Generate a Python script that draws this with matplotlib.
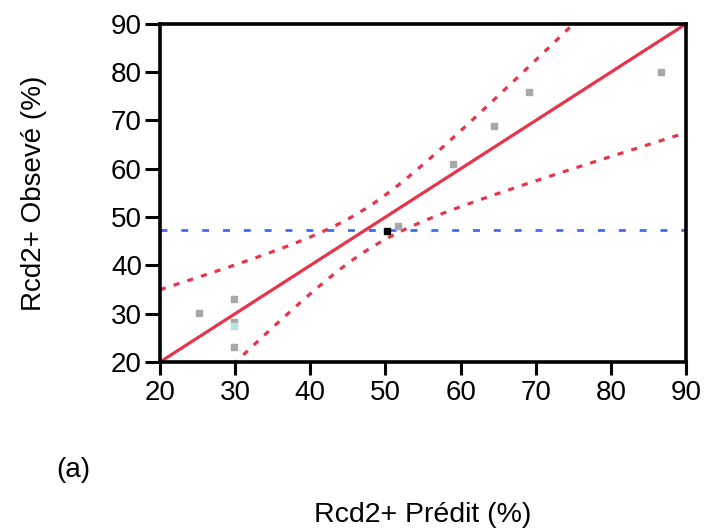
import numpy as np
import matplotlib
matplotlib.use("Agg")
import matplotlib.pyplot as plt

plt.rcParams["font.family"] = ["Liberation Sans", "DejaVu Sans"]

pred_grey = [25.2, 29.9, 29.9, 29.9, 51.7, 59.0, 64.5, 69.1, 86.7]
obs_grey = [30.1, 33.0, 28.3, 23.1, 48.2, 61.0, 68.9, 75.9, 80.0]
pred_cyan = [29.9]
obs_cyan = [27.5]
pred_black = [50.2]
obs_black = [47.1]

mean_obs = 47.4

# confidence band: centre, half-width at centre, slope
band_centre = 47.5
band_min = 4.4
band_slope = 0.52

fig = plt.figure(figsize=(7.08, 5.3), dpi=100)
ax = fig.add_axes([0.226, 0.317, 0.743, 0.638])

xs = np.linspace(20, 90, 300)
half = np.sqrt(band_min ** 2 + (band_slope * (xs - band_centre)) ** 2)

red = "#e8344a"
ax.plot([20, 90], [20, 90], color=red, lw=2.3)
ax.plot(xs, xs + half, color=red, lw=2.3, ls=(0, (1.9, 2.6)))
ax.plot(xs, xs - half, color=red, lw=2.3, ls=(0, (1.9, 2.6)))
ax.axhline(mean_obs, color="#3a6ff0", lw=2, ls=(0, (2.5, 5)))

ax.scatter(pred_grey, obs_grey, marker="s", s=14, color="#a8a8a8", zorder=3)
ax.scatter(pred_cyan, obs_cyan, marker="s", s=14, color="#b5e3e3", zorder=3)
ax.scatter(pred_black, obs_black, marker="s", s=14, color="black", zorder=3)

ax.set_xlim(20, 90)
ax.set_ylim(20, 90)
ax.set_xticks(range(20, 91, 10))
ax.set_yticks(range(20, 91, 10))
ax.tick_params(labelsize=20, width=2.2, direction="out",
               top=False, right=False)
ax.tick_params(axis="x", length=9, pad=4)
ax.tick_params(axis="y", length=11, pad=2)
for sp in ax.spines.values():
    sp.set_linewidth(2.6)

ax.set_ylabel("Rcd2+ Obsevé (%)", fontsize=20, labelpad=46)
fig.text(0.597, 0.015, "Rcd2+ Prédit (%)", fontsize=20.5, ha="center")
fig.text(0.080, 0.10, "(a)", fontsize=20)

plt.savefig("out.png", dpi=100)
